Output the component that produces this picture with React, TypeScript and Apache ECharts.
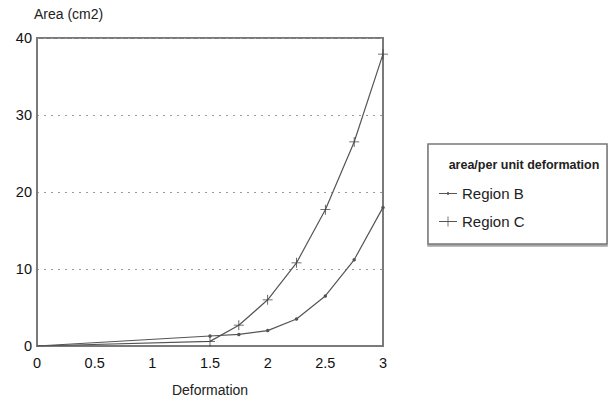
import React, { useEffect, useRef } from "react";
import * as echarts from "echarts";

const deformation = [0, 1.5, 1.75, 2, 2.25, 2.5, 2.75, 3];
const regionB = [0, 1.3, 1.5, 2.0, 3.5, 6.5, 11.2, 18.0];
const regionC = [0, 0.6, 2.7, 6.0, 10.8, 17.7, 26.5, 37.9];
const seriesNames = ["Region B", "Region C"];
const legendTitle = "area/per unit deformation";
const xTitle = "Deformation";
const yTitle = "Area (cm2)";

const PLUS = "path://M0,4.6H10V5.4H0ZM4.6,0H5.4V10H4.6Z";
const LEG_B = "path://M0,4.6H18V5.4H0ZM8,3.8H10V6.2H8Z";
const LEG_C = "path://M0,4.6H18V5.4H0ZM8.6,0H9.4V10H8.6Z";

export default function App() {
  const ref = useRef<HTMLDivElement>(null);
  useEffect(() => {
    if (!ref.current) return;
    const chart = echarts.init(ref.current, undefined, { renderer: "svg" });
    const font = "Liberation Sans, Arial, sans-serif";
    const lineColor = "#555";
    const mk = (vals: number[]) =>
      vals.map((v, i) => (i === 0 ? { value: [deformation[i], v], symbol: "none" } : { value: [deformation[i], v] }));
    chart.setOption({
      animation: false,
      backgroundColor: "#fff",
      textStyle: { fontFamily: font },
      grid: {
        left: 37,
        right: 232,
        top: 38,
        bottom: 56,
        show: true,
        borderColor: "#7a7a7a",
        borderWidth: 2,
      },
      xAxis: {
        type: "value",
        min: 0,
        max: 3,
        interval: 0.5,
        name: xTitle,
        nameLocation: "middle",
        nameGap: 37,
        nameTextStyle: { fontSize: 14, color: "#222", fontFamily: font },
        axisLine: { show: true, lineStyle: { color: "#7a7a7a", width: 2 } },
        axisTick: { show: false },
        axisLabel: { fontSize: 14.5, color: "#111", margin: 9, fontFamily: font },
        splitLine: { show: false },
      },
      yAxis: {
        type: "value",
        min: 0,
        max: 40,
        interval: 10,
        name: yTitle,
        nameLocation: "end",
        nameGap: 17,
        nameTextStyle: { fontSize: 14, color: "#222", align: "left", padding: [0, 0, 0, -3], fontFamily: font },
        axisLine: { show: true, lineStyle: { color: "#7a7a7a", width: 2 } },
        axisTick: { show: false },
        axisLabel: { fontSize: 14.5, color: "#111", margin: 5, fontFamily: font },
        splitLine: { show: true, lineStyle: { color: "#999", type: [2, 5], width: 1 } },
      },
      legend: {
        orient: "vertical",
        left: 434,
        top: 181,
        itemGap: 13,
        itemWidth: 18,
        itemHeight: 10,
        textStyle: { fontSize: 15, color: "#222", fontFamily: font },
        data: [
          { name: seriesNames[0], icon: LEG_B, itemStyle: { color: lineColor } },
          { name: seriesNames[1], icon: LEG_C, itemStyle: { color: lineColor } },
        ],
      },
      graphic: [
        {
          type: "rect",
          shape: { x: 428, y: 144, width: 179, height: 100 },
          style: { fill: "#fff", stroke: "#777", lineWidth: 1.5, shadowColor: "rgba(0,0,0,0.35)", shadowOffsetX: 0, shadowOffsetY: 2, shadowBlur: 1 },
          z: -1,
        },
        {
          type: "text",
          x: 524,
          y: 165,
          style: {
            text: legendTitle,
            fontSize: 12.5,
            fontWeight: "bold",
            fill: "#222",
            fontFamily: font,
            align: "center",
            verticalAlign: "middle",
          },
        },
      ],
      series: [
        {
          name: seriesNames[0],
          type: "line",
          data: mk(regionB),
          symbol: "circle",
          symbolSize: 3.5,
          lineStyle: { color: lineColor, width: 1.2 },
          itemStyle: { color: lineColor },
        },
        {
          name: seriesNames[1],
          type: "line",
          data: mk(regionC),
          symbol: PLUS,
          symbolSize: 10,
          lineStyle: { color: lineColor, width: 1.2 },
          itemStyle: { color: "#444" },
        },
      ],
    });
    return () => chart.dispose();
  }, []);
  return <div ref={ref} style={{ width: 615, height: 402, position: "absolute", left: 0, top: 0 }} />;
}
